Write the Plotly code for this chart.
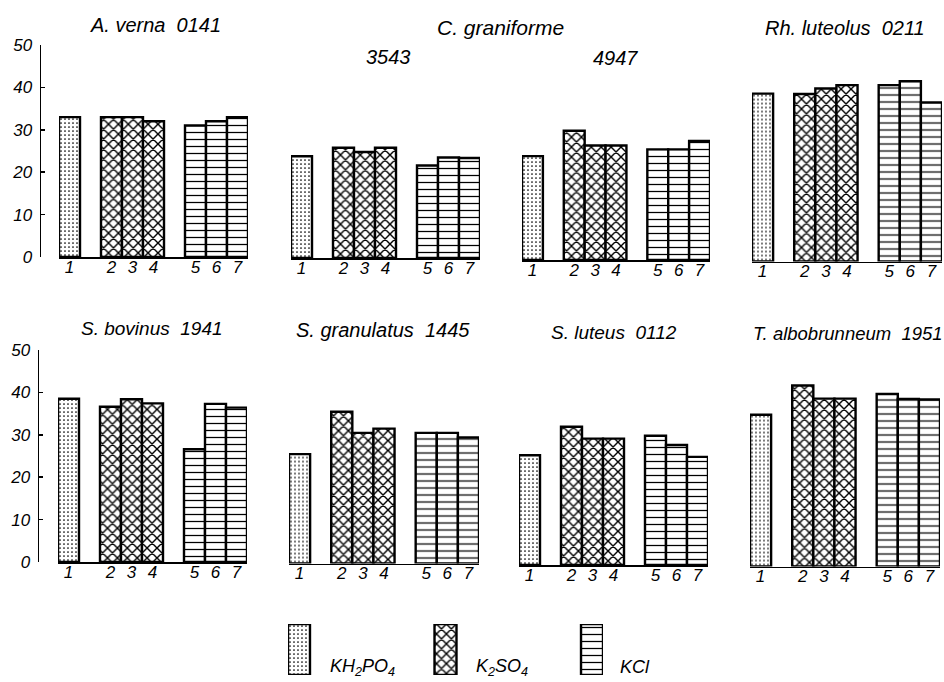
import plotly.graph_objects as go

# ---------------- data ----------------
bar_labels = ["1", "2", "3", "4", "5", "6", "7"]
bar_pos = [0, 2, 3, 4, 6, 7, 8]
salt_of_bar = ["KH2PO4", "K2SO4", "K2SO4", "K2SO4", "KCl", "KCl", "KCl"]

a_verna_0141 = [33, 33, 33, 32, 31, 32, 33]
c_graniforme_3543 = [24, 26, 25, 26, 21.8, 23.7, 23.6]
c_graniforme_4947 = [24.5, 30.5, 27, 27, 26.1, 26.1, 28.1]
rh_luteolus_0211 = [39.6, 39.5, 40.8, 41.6, 41.6, 42.5, 37.5]
s_bovinus_1941 = [38.5, 36.6, 38.4, 37.4, 26.6, 37.3, 36.4]
s_granulatus_1445 = [25.8, 35.8, 30.8, 31.8, 30.8, 30.8, 29.7]
s_luteus_0112 = [25.9, 32.6, 29.8, 29.8, 30.5, 28.3, 25.5]
t_albobrunneum_1951 = [35.8, 42.7, 39.6, 39.6, 40.7, 39.5, 39.4]

panels = [a_verna_0141, c_graniforme_3543, c_graniforme_4947, rh_luteolus_0211,
          s_bovinus_1941, s_granulatus_1445, s_luteus_0112, t_albobrunneum_1951]

y_ticks = [0, 10, 20, 30, 40, 50]
legend_salts = ["KH2PO4", "K2SO4", "KCl"]
legend_text = ["KH<sub>2</sub>PO<sub>4</sub>", "K<sub>2</sub>SO<sub>4</sub>", "KCl"]
legend_height = [1, 1, 1]

# ---------------- styling ----------------
W, H = 944, 682
FONT = "Liberation Sans, Arial, sans-serif"
pattern_of = {"KH2PO4": ".", "K2SO4": "x", "KCl": "-"}
psize_of = {"KH2PO4": 4, "K2SO4": 7, "KCl": 7}
psol_of = {"KH2PO4": 0.15, "K2SO4": 0.36, "KCl": 0.18}

# pixel geometry of panels: (x_left, x_right, baseline_y)
geom = [
    (59, 248, 257), (291, 480, 258), (522, 710, 260), (752, 942, 261.5),
    (58, 247, 562), (289, 479, 563.5), (519, 708, 565), (750, 940, 566.5),
]
yaxis_x = {0: 39.5, 4: 37.5}

fig = go.Figure()
layout = {}

for i, vals in enumerate(panels):
    k = i + 1
    xa = "x" if k == 1 else f"x{k}"
    ya = "y" if k == 1 else f"y{k}"
    fig.add_trace(go.Bar(
        x=bar_pos, y=vals, width=1.0, xaxis=xa, yaxis=ya, showlegend=False,
        marker=dict(
            color="white",
            line=dict(color="black", width=2.4),
            pattern=dict(
                shape=[pattern_of[s] for s in salt_of_bar],
                size=[psize_of[s] for s in salt_of_bar],
                solidity=[psol_of[s] for s in salt_of_bar],
                fgcolor="black", bgcolor="white", fillmode="replace",
            ),
        ),
    ))
    xl, xr, base = geom[i]
    ybot = (H - base) / H
    ytop = (H - (base - 212)) / H
    xkey = "xaxis" if k == 1 else f"xaxis{k}"
    ykey = "yaxis" if k == 1 else f"yaxis{k}"
    layout[xkey] = dict(
        domain=[xl / W, xr / W], range=[-0.5, 8.5], anchor=ya,
        tickvals=bar_pos, ticktext=bar_labels, ticks="",
        showline=True, linecolor="black", linewidth=1.5,
        showgrid=False, zeroline=False, fixedrange=True, automargin=False,
        tickfont=dict(family=FONT, size=17, color="black", style="italic"),
        ticklabelstandoff=-6,
    )
    if i in yaxis_x:
        layout[ykey] = dict(
            domain=[ybot, ytop], range=[0, 50], anchor="free",
            position=yaxis_x[i] / W, tickvals=y_ticks,
            ticks="inside", ticklen=4, tickwidth=1.5, tickcolor="black",
            showline=True, linecolor="black", linewidth=1.5,
            showgrid=False, zeroline=False, automargin=False,
            tickfont=dict(family=FONT, size=17, color="black", style="italic"),
            ticklabelstandoff=4,
        )
    else:
        layout[ykey] = dict(domain=[ybot, ytop], range=[0, 50], visible=False,
                            anchor=xa)

# legend as a small bar axis
fig.add_trace(go.Bar(
    x=[0, 1, 2], y=legend_height, width=0.15, xaxis="x9", yaxis="y9", showlegend=False,
    marker=dict(
        color="white", line=dict(color="black", width=2.4),
        pattern=dict(shape=[pattern_of[s] for s in legend_salts],
                     size=[psize_of[s] for s in legend_salts],
                     solidity=[psol_of[s] for s in legend_salts],
                     fgcolor="black", bgcolor="white", fillmode="replace"),
    ),
))
layout["xaxis9"] = dict(domain=[288 / W, 603 / W], range=[-0.075, 2.075], visible=False,
                        anchor="y9")
layout["yaxis9"] = dict(domain=[(H - 675) / H, (H - 624) / H], range=[0, 1], visible=False,
                        anchor="x9")

annotations = []
titles = [
    ("A. verna  0141", 155, 25, 20),
    ("C. graniforme", 500, 28, 21),
    ("3543", 388, 57, 20),
    ("4947", 615, 58, 20),
    ("Rh. luteolus  0211", 845, 28, 20),
    ("S. bovinus  1941", 152, 328, 19),
    ("S. granulatus  1445", 383, 330, 20),
    ("S. luteus  0112", 614, 332, 19),
    ("T. albobrunneum  1951", 848, 333, 18.5),
]
for t, x, y, fs in titles:
    annotations.append(dict(text=t, x=x / W, y=(H - y) / H, xref="paper", yref="paper",
                            showarrow=False,
                            font=dict(family=FONT, size=fs, color="black", style="italic"),
                            xanchor="center", yanchor="middle"))
leg_x = [362, 502, 635]
for t, x in zip(legend_text, leg_x):
    annotations.append(dict(text=t, x=x / W, y=(H - 667) / H, xref="paper", yref="paper",
                            showarrow=False, font=dict(family=FONT, size=18, color="black",
                                                       style="italic"),
                            xanchor="center", yanchor="middle"))

fig.update_layout(
    width=W, height=H, margin=dict(l=0, r=0, t=0, b=0, autoexpand=False),
    paper_bgcolor="white", plot_bgcolor="white", showlegend=False,
    barmode="overlay", annotations=annotations, **layout,
)

fig.write_html("out.html",
               config={"displayModeBar": False, "staticPlot": True},
               post_script="document.body.style.margin='0';document.body.style.overflow='hidden';")
